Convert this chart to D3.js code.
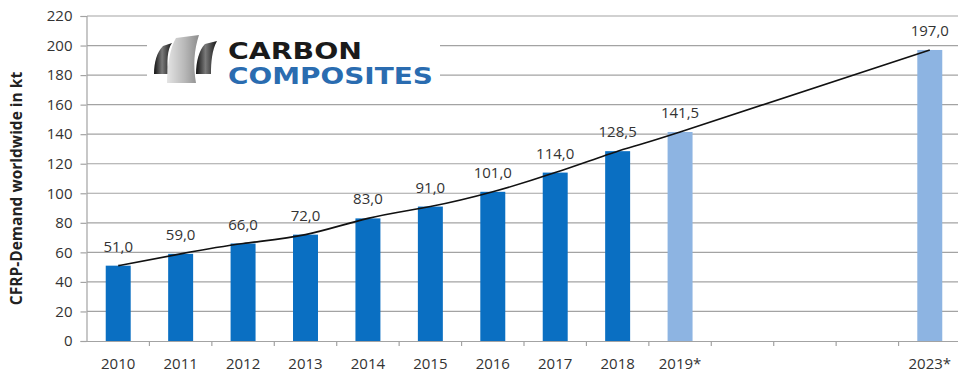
<!DOCTYPE html>
<html>
<head>
<meta charset="utf-8">
<script src="https://cdn.jsdelivr.net/npm/d3@7"></script>
<style>
  body { margin: 0; background: #fff; }
  svg { display: block; }
</style>
</head>
<body>
<div id="chart"></div>
<script>
// Data
var years = ["2010", "2011", "2012", "2013", "2014", "2015", "2016", "2017", "2018", "2019", "2020", "2021", "2022", "2023"];
var tickLabels = ["2010", "2011", "2012", "2013", "2014", "2015", "2016", "2017", "2018", "2019*", "", "", "", "2023*"];
var demand = [51.0, 59.0, 66.0, 72.0, 83.0, 91.0, 101.0, 114.0, 128.5, 141.5, null, null, null, 197.0];
var forecast = [false, false, false, false, false, false, false, false, false, true, false, false, false, true];
var yTicks = [0, 20, 40, 60, 80, 100, 120, 140, 160, 180, 200, 220];

var W = 958, H = 374;
var plotLeft = 87, plotRight = 961, plotTop = 16, plotBottom = 341;

var svg = d3.select("#chart").append("svg")
            .attr("width", W)
            .attr("height", H)
            .style("font-family", "'Open Sans', sans-serif");

// Scales
var x = d3.scaleBand().domain(years).range([plotLeft, plotRight]).paddingInner(0.6).paddingOuter(0.3);
var y = d3.scaleLinear().domain([0, 220]).range([plotBottom, plotTop]);

// Grid
svg.append("g")
   .selectAll("line")
   .data(yTicks.slice(1))
   .enter().append("line")
   .attr("x1", plotLeft).attr("x2", W)
   .attr("y1", d => y(d)).attr("y2", d => y(d))
   .attr("stroke", "#a3a3a3")
   .attr("stroke-width", 1.2);

// Y axis
var yAxis = svg.append("g")
   .attr("transform", "translate(" + (plotLeft - 0.5) + ",0)")
   .call(d3.axisLeft(y).tickValues(yTicks).tickSize(6).tickPadding(8));
yAxis.select(".domain").attr("stroke", "#a3a3a3").attr("stroke-width", 1.2);
yAxis.selectAll(".tick line").attr("stroke", "#a3a3a3").attr("stroke-width", 1.2);
yAxis.selectAll("text").attr("font-size", 15).attr("fill", "#333").attr("font-family", "'Open Sans', sans-serif");

// X axis (band boundaries as ticks)
var step = x.step();
svg.append("line")
   .attr("x1", plotLeft - 6).attr("x2", W)
   .attr("y1", plotBottom + 0.5).attr("y2", plotBottom + 0.5)
   .attr("stroke", "#a3a3a3").attr("stroke-width", 1.2);
svg.append("g")
   .selectAll("line")
   .data(years.slice(1))
   .enter().append("line")
   .attr("x1", (d, i) => plotLeft + (i + 1) * step)
   .attr("x2", (d, i) => plotLeft + (i + 1) * step)
   .attr("y1", plotBottom).attr("y2", plotBottom + 5)
   .attr("stroke", "#a3a3a3").attr("stroke-width", 1.2);

svg.append("g")
   .selectAll("text")
   .data(years)
   .enter().append("text")
   .attr("x", d => x(d) + x.bandwidth() / 2)
   .attr("y", 369)
   .attr("text-anchor", "middle")
   .attr("font-size", 15)
   .attr("fill", "#333")
   .text((d, i) => tickLabels[i]);

// Y axis title
svg.append("text")
   .attr("transform", "translate(22," + ((plotTop + plotBottom) / 2 + 10) + ") rotate(-90)")
   .attr("text-anchor", "middle")
   .attr("font-size", 15.5)
   .attr("font-weight", "bold")
   .attr("fill", "#222")
   .text("CFRP-Demand worldwide in kt");

// Bars
var barData = years.map((d, i) => ({year: d, value: demand[i], fc: forecast[i]})).filter(d => d.value !== null);

svg.append("g")
   .selectAll("rect")
   .data(barData)
   .enter().append("rect")
   .attr("x", d => x(d.year))
   .attr("y", d => y(d.value))
   .attr("width", x.bandwidth())
   .attr("height", d => y(0) - y(d.value))
   .attr("fill", d => d.fc ? "#8db4e2" : "#0a6fc2");

// Value labels
svg.append("g")
   .selectAll("text")
   .data(barData)
   .enter().append("text")
   .attr("x", d => x(d.year) + x.bandwidth() / 2)
   .attr("y", d => y(d.value) - 14)
   .attr("text-anchor", "middle")
   .attr("font-size", 15)
   .attr("fill", "#333")
   .text(d => d3.format(".1f")(d.value).replace(".", ","));

// Trend line
var line = d3.line()
             .x(d => x(d.year) + x.bandwidth() / 2)
             .y(d => y(d.value))
             .curve(d3.curveNatural);

svg.append("path")
   .datum(barData)
   .attr("d", line)
   .attr("fill", "none")
   .attr("stroke", "#111")
   .attr("stroke-width", 1.6);

// Logo
var logo = svg.append("g");
var defs = svg.append("defs");

var dark = defs.append("linearGradient").attr("id", "dark").attr("x1", 0).attr("x2", 1).attr("y1", 0).attr("y2", 0);
dark.append("stop").attr("offset", "0%").attr("stop-color", "#111");
dark.append("stop").attr("offset", "45%").attr("stop-color", "#7a7a7a");
dark.append("stop").attr("offset", "100%").attr("stop-color", "#141414");

var light = defs.append("linearGradient").attr("id", "light").attr("x1", 0).attr("x2", 1).attr("y1", 0).attr("y2", 0);
light.append("stop").attr("offset", "0%").attr("stop-color", "#e4e4e4");
light.append("stop").attr("offset", "55%").attr("stop-color", "#b8b8b8");
light.append("stop").attr("offset", "100%").attr("stop-color", "#8c8c8c");

logo.append("rect")
    .attr("x", 147).attr("y", 30)
    .attr("width", 293).attr("height", 58)
    .attr("fill", "#fff");

logo.append("path")
    .attr("d", "M154,74 C154,62 157,52 163,46 L172,43 C167,50 167,62 168,74 Z")
    .attr("fill", "url(#dark)");
logo.append("path")
    .attr("d", "M196,74 C196,62 199,50 205,44 L217,41 C212,50 211,62 211,74 Z")
    .attr("fill", "url(#dark)");
logo.append("path")
    .attr("d", "M167,83 C167,66 170,48 176,38 L199,35 C194,50 193,66 196,83 Z")
    .attr("fill", "url(#light)");

logo.append("text")
    .attr("x", 228).attr("y", 58.5)
    .attr("font-family", "'DejaVu Sans', sans-serif")
    .attr("font-weight", "bold")
    .attr("font-size", 23)
    .attr("fill", "#1a1a1a")
    .attr("textLength", 134)
    .attr("lengthAdjust", "spacingAndGlyphs")
    .text("CARBON");

logo.append("text")
    .attr("x", 228).attr("y", 84)
    .attr("font-family", "'DejaVu Sans', sans-serif")
    .attr("font-weight", "bold")
    .attr("font-size", 23)
    .attr("fill", "#2a6cb0")
    .attr("textLength", 205)
    .attr("lengthAdjust", "spacingAndGlyphs")
    .text("COMPOSITES");
</script>
</body>
</html>
